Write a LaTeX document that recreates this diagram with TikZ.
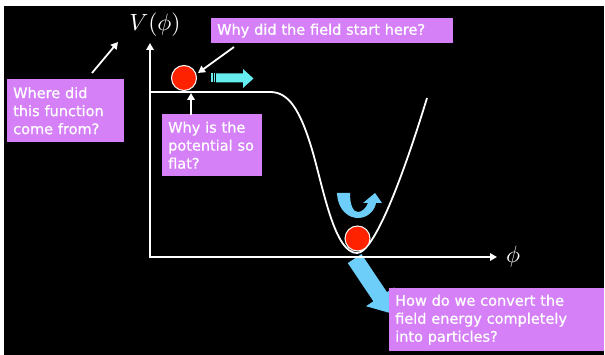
\documentclass[tikz,border=0pt]{standalone}
\usepackage{fontspec}
\newfontfamily\boxfont{DejaVu Sans}[FakeBold=0.8]
\usetikzlibrary{arrows.meta}
\definecolor{boxpink}{RGB}{213,128,247}
\definecolor{ballred}{RGB}{255,34,0}
\definecolor{cyanarrow}{RGB}{100,238,240}
\definecolor{bluearrow}{RGB}{110,206,250}
\begin{document}
\begin{tikzpicture}[x=1pt,y=-1pt,
  qbox/.style={fill=boxpink, text=white, font=\boxfont\fontsize{14.5}{18}\selectfont,
    align=left, anchor=north west, inner xsep=6pt, inner ysep=0pt},
  wline/.style={white, line width=1.8pt},
  warrow/.style={wline, -{Triangle[length=7pt,width=7.5pt]}},
  ball/.style={circle, fill=ballred, draw=white, line width=1pt, minimum size=25pt, inner sep=0pt},
  mathlabel/.style={text=white, scale=2.35, inner sep=0pt}
]
\useasboundingbox (0,0) rectangle (605,355);
\fill[white] (0,0) rectangle (605,355);
\fill[black] (4,6) rectangle (604,355);

% big blue arrow (behind axes and curve)
\fill[bluearrow] (347.8,263.1) -- (361.4,254.0) -- (387.0,292.2) -- (394.3,287.3)
  -- (391.3,313.4) -- (366.0,306.2) -- (373.4,301.3) -- cycle;

% axes
\coordinate (O) at (150,257);
\coordinate (ytip) at (150,43);
\coordinate (xtip) at (497,257);
\draw[wline, line join=miter, {Triangle[length=7pt,width=7.5pt]}-{Triangle[length=7pt,width=7.5pt]}] (ytip) -- (O) -- (xtip);

% potential curve
\draw[wline] (150,92) -- (270,92) .. controls (288,92) and (300,108) .. (313,153)
  .. controls (324,192) and (335,253) .. (357,253)
  .. controls (375,253) and (405,170) .. (427,98);

% labels
\node[mathlabel] (vlabel) at (155,24.5) {$V(\phi)$};
\node[mathlabel] (philabel) at (513,257) {$\phi$};

% balls
\node[ball] (topball) at (184,78) {};
\node[ball] (botball) at (357.5,238.5) {};

% cyan arrow at top
\fill[cyanarrow] (216,73.5) -- (243,73.5) -- (243,69) -- (253.5,78.5) -- (243,88)
  -- (243,82.5) -- (216,82.5) -- cycle;
\fill[cyanarrow] (211,73.5) rectangle (212.7,82.5);
\fill[cyanarrow] (213.5,73.5) rectangle (215.2,82.5);

% curved blue arrow
\fill[bluearrow] (337,193) .. controls (338,212) and (350,218) .. (358,218)
  .. controls (368,218) and (375,210) .. (376,203) -- (382,203) -- (375,193)
  -- (363,203) -- (368,203) .. controls (366,208) and (362,212) .. (358,212)
  .. controls (353,212) and (350,205) .. (350,193) -- cycle;

% question boxes
\node[qbox, text width=230pt, minimum height=25pt] (qstart) at (211,18)
  {\mbox{Why did the field start here?}};
\node[qbox, text width=105pt, minimum height=63pt] (qwhere) at (7,79)
  {\mbox{Where did}\\\mbox{this function}\\\mbox{come from?}};
\node[qbox, text width=88pt, minimum height=62pt] (qflat) at (162,114)
  {\mbox{Why is the}\\\mbox{potential so}\\\mbox{flat?}};
\node[qbox, text width=203pt, minimum height=63pt] (qconvert) at (389,288)
  {\mbox{How do we convert the}\\\mbox{field energy completely}\\\mbox{into particles?}};

% white pointer arrows
\coordinate (a1s) at (92,73);
\coordinate (a1e) at (118,42);
\coordinate (a2s) at (234,47);
\coordinate (a2e) at (198,73);
\coordinate (a3s) at (191,115);
\coordinate (a3e) at (191,93);
\draw[warrow] (a1s) -- (a1e);
\draw[warrow] (a2s) -- (a2e);
\draw[warrow] (a3s) -- (a3e);
\end{tikzpicture}
\end{document}
